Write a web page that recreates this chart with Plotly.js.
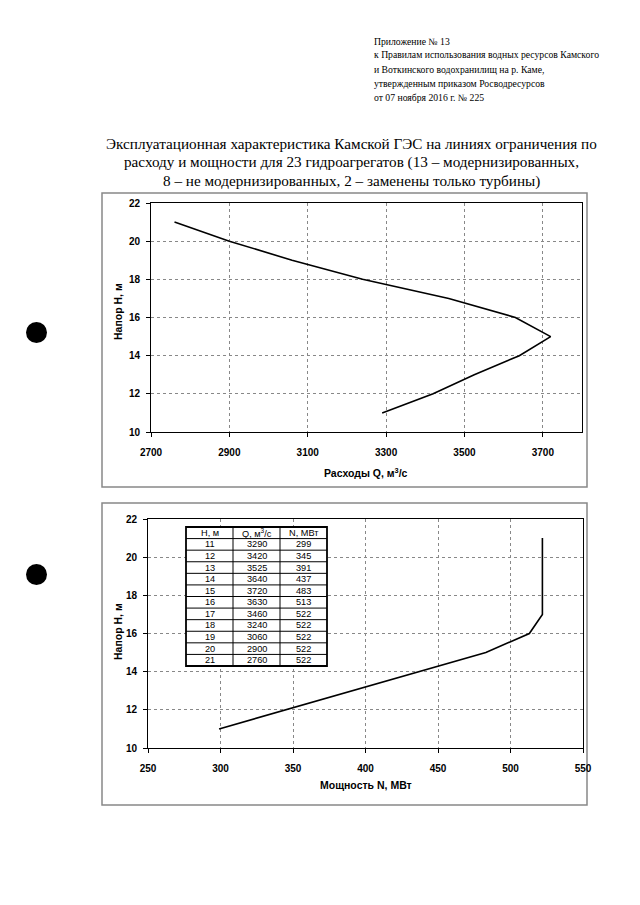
<!DOCTYPE html>
<html>
<head>
<meta charset="utf-8">
<script src="https://cdn.plot.ly/plotly-3.0.1.min.js"></script>
<style>html,body{margin:0;padding:0;background:#fff;}#chart{width:640px;height:905px;}</style>
</head>
<body>
<div id="chart"></div>
<script>
// ---- Data ----
const headH = [11, 12, 13, 14, 15, 16, 17, 18, 19, 20, 21];            // Напор H, м
const flowQ = [3290, 3420, 3525, 3640, 3720, 3630, 3460, 3240, 3060, 2900, 2760]; // Q, м3/с
const powerN = [299, 345, 391, 437, 483, 513, 522, 522, 522, 522, 522];  // N, МВт
const tableHeader = ['H, м', 'Q, м<sup>3</sup>/с', 'N, МВт'];
const noteLines = [
  'Приложение № 13',
  'к Правилам использования водных ресурсов Камского',
  'и Воткинского водохранилищ на р. Каме,',
  'утвержденным приказом Росводресурсов',
  'от 07 ноября 2016 г. № 225'
];
const titleLines = [
  'Эксплуатационная характеристика Камской ГЭС на линиях ограничения по',
  'расходу и мощности для 23 гидроагрегатов (13 – модернизированных,',
  '8 – не модернизированных, 2 – заменены только турбины)'
];
const xTitleTop = 'Расходы Q, м<sup>3</sup>/с';
const xTitleBottom = 'Мощность N, МВт';
const yTitle = 'Напор H, м';

// ---- helpers (pixel -> paper) ----
const W = 640, Hh = 905;
const px = v => v / W;
const py = v => 1 - v / Hh;

const sans = 'Liberation Sans, Arial, sans-serif';
const serif = 'Liberation Serif, Times New Roman, serif';
const tickFont = {family: sans, size: 10, color: '#000', weight: 'bold'};
const titleFont = {family: sans, size: 10.5, color: '#000', weight: 'bold'};

function axisBase(extra) {
  return Object.assign({
    showline: true, linecolor: '#000', linewidth: 1, mirror: true,
    ticks: 'outside', ticklen: 4, tickcolor: '#000', tickwidth: 1,
    showgrid: true, gridcolor: '#888', griddash: 'dot', gridwidth: 1,
    zeroline: false, tickfont: tickFont, automargin: false,
    fixedrange: true
  }, extra);
}

const traces = [
  {
    type: 'scatter', mode: 'lines', x: flowQ, y: headH,
    xaxis: 'x', yaxis: 'y',
    line: {color: '#000', width: 1.6}, hoverinfo: 'skip'
  },
  {
    type: 'scatter', mode: 'lines', x: powerN, y: headH,
    xaxis: 'x2', yaxis: 'y2',
    line: {color: '#000', width: 1.6}, hoverinfo: 'skip'
  }
];

const shapes = [
  // outer chart frames
  {type: 'rect', xref: 'paper', yref: 'paper', x0: px(102), x1: px(587), y0: py(487), y1: py(193),
   line: {color: '#888', width: 1.5}, layer: 'below'},
  {type: 'rect', xref: 'paper', yref: 'paper', x0: px(102), x1: px(587), y0: py(805), y1: py(503),
   line: {color: '#888', width: 1.5}, layer: 'below'},
  // punch holes
  {type: 'circle', xref: 'paper', yref: 'paper', x0: px(26), x1: px(47), y0: py(343), y1: py(322),
   fillcolor: '#000', line: {color: '#000', width: 0}},
  {type: 'circle', xref: 'paper', yref: 'paper', x0: px(26), x1: px(47), y0: py(585), y1: py(564),
   fillcolor: '#000', line: {color: '#000', width: 0}}
];

const annotations = [];
noteLines.forEach((t, i) => annotations.push({
  xref: 'paper', yref: 'paper', x: px(372), y: py(41 + i * 14), xanchor: 'left', yanchor: 'middle',
  showarrow: false, text: t, font: {family: serif, size: 9.7, color: '#000'}
}));
titleLines.forEach((t, i) => annotations.push({
  xref: 'paper', yref: 'paper', x: px(351), y: py(143 + i * 19), xanchor: 'center', yanchor: 'middle',
  showarrow: false, text: t, font: {family: serif, size: 15.2, color: '#000'}
}));
annotations.push(
  {xref: 'paper', yref: 'paper', x: px(366), y: py(473), xanchor: 'center', yanchor: 'middle',
   showarrow: false, text: xTitleTop, font: titleFont},
  {xref: 'paper', yref: 'paper', x: px(366), y: py(785), xanchor: 'center', yanchor: 'middle',
   showarrow: false, text: xTitleBottom, font: titleFont},
  {xref: 'paper', yref: 'paper', x: px(118), y: py(312), xanchor: 'center', yanchor: 'middle',
   textangle: -90, showarrow: false, text: yTitle, font: titleFont},
  {xref: 'paper', yref: 'paper', x: px(118), y: py(632), xanchor: 'center', yanchor: 'middle',
   textangle: -90, showarrow: false, text: yTitle, font: titleFont}
);

// ---- inset table built from the data arrays ----
const tL = 186, tT = 527, tB = 666;
const colEdges = [186, 233, 280, 327];
const nRows = headH.length + 1;
const rowH = (tB - tT) / nRows;
shapes.push({type: 'rect', xref: 'paper', yref: 'paper', x0: px(tL), x1: px(colEdges[3]),
  y0: py(tB), y1: py(tT), fillcolor: '#fff', line: {color: '#000', width: 1.8}});
for (let r = 1; r < nRows; r++) {
  shapes.push({type: 'line', xref: 'paper', yref: 'paper', x0: px(tL), x1: px(colEdges[3]),
    y0: py(tT + r * rowH), y1: py(tT + r * rowH), line: {color: '#000', width: 1}});
}
for (let c = 1; c < 3; c++) {
  shapes.push({type: 'line', xref: 'paper', yref: 'paper', x0: px(colEdges[c]), x1: px(colEdges[c]),
    y0: py(tB), y1: py(tT), line: {color: '#000', width: 1}});
}
const tableCols = [headH, flowQ, powerN];
const cellFont = {family: sans, size: 9.2, color: '#000'};
for (let c = 0; c < 3; c++) {
  const cx = (colEdges[c] + colEdges[c + 1]) / 2;
  annotations.push({xref: 'paper', yref: 'paper', x: px(cx), y: py(tT + rowH * 0.5),
    xanchor: 'center', yanchor: 'middle', showarrow: false, text: tableHeader[c], font: cellFont});
  tableCols[c].forEach((v, i) => annotations.push({
    xref: 'paper', yref: 'paper', x: px(cx), y: py(tT + rowH * (i + 1.5)),
    xanchor: 'center', yanchor: 'middle', showarrow: false, text: String(v), font: cellFont
  }));
}

const layout = {
  width: W, height: Hh,
  margin: {l: 0, r: 0, t: 0, b: 0},
  paper_bgcolor: '#fff', plot_bgcolor: '#fff',
  showlegend: false,
  xaxis: axisBase({
    domain: [px(151), px(582)], anchor: 'y',
    range: [2700, 3800], tick0: 2700, dtick: 200, ticklabelstandoff: 7
  }),
  yaxis: axisBase({
    domain: [py(432), py(203)], anchor: 'x',
    range: [10, 22], tick0: 10, dtick: 2, ticklabelstandoff: 4
  }),
  xaxis2: axisBase({
    domain: [px(148), px(583)], anchor: 'y2',
    range: [250, 550], tick0: 250, dtick: 50, ticklabelstandoff: 7
  }),
  yaxis2: axisBase({
    domain: [py(748), py(519)], anchor: 'x2',
    range: [10, 22], tick0: 10, dtick: 2, ticklabelstandoff: 4
  }),
  shapes: shapes,
  annotations: annotations
};

Plotly.newPlot('chart', traces, layout, {staticPlot: true, displayModeBar: false});
</script>
</body>
</html>
